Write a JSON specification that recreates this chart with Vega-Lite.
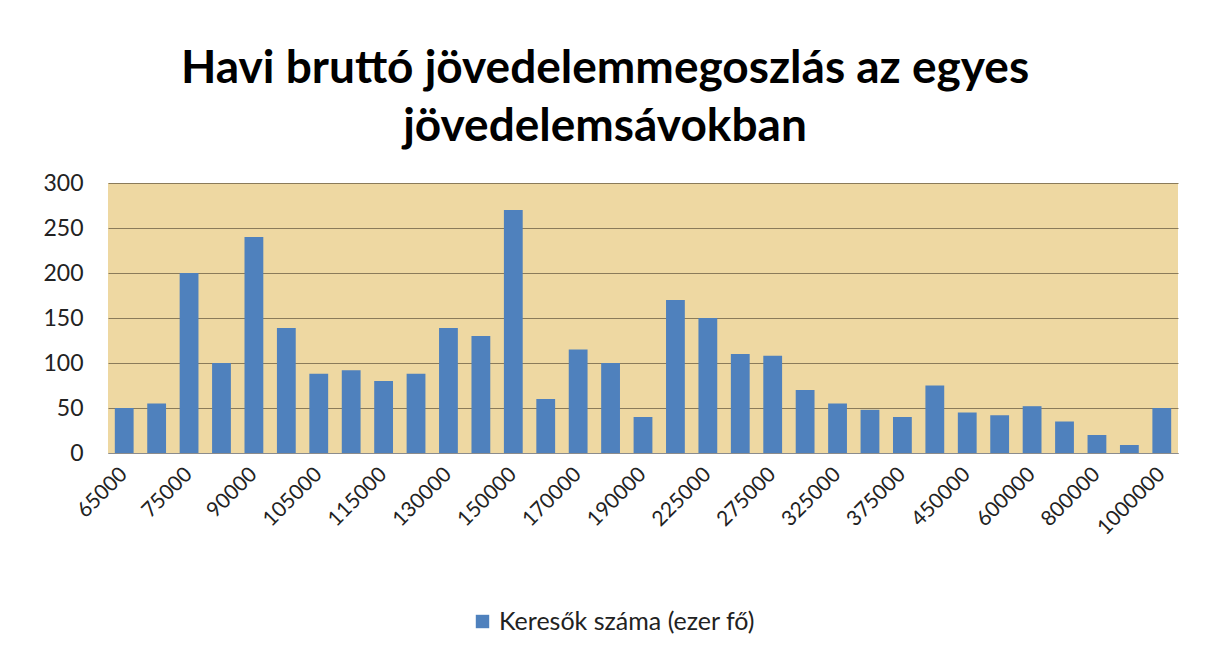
{
  "$schema": "https://vega.github.io/schema/vega-lite/v6.json",
  "width": 1070,
  "height": 270,
  "autosize": {"type": "none"},
  "padding": {"left": 108, "top": 183, "right": 32, "bottom": 200},
  "background": "white",
  "title": {
    "text": ["Havi bruttó jövedelemmegoszlás az egyes", "jövedelemsávokban"],
    "font": "Lato",
    "fontSize": 46,
    "fontWeight": "bold",
    "color": "#000000",
    "anchor": "middle",
    "frame": "group",
    "dx": -38,
    "offset": 21,
    "lineHeight": 58
  },
  "config": {
    "view": {"fill": "#eed8a2", "stroke": null},
    "axis": {"labelFont": "Lato", "labelColor": "#222222"}
  },
  "data": {
    "values": [
      {"sav": "65000", "keresok": 50},
      {"sav": "70000", "keresok": 55},
      {"sav": "75000", "keresok": 200},
      {"sav": "80000", "keresok": 100},
      {"sav": "90000", "keresok": 240},
      {"sav": "100000", "keresok": 139},
      {"sav": "105000", "keresok": 88},
      {"sav": "110000", "keresok": 92},
      {"sav": "115000", "keresok": 80},
      {"sav": "120000", "keresok": 88},
      {"sav": "130000", "keresok": 139},
      {"sav": "140000", "keresok": 130},
      {"sav": "150000", "keresok": 270},
      {"sav": "160000", "keresok": 60},
      {"sav": "170000", "keresok": 115},
      {"sav": "180000", "keresok": 100},
      {"sav": "190000", "keresok": 40},
      {"sav": "200000", "keresok": 170},
      {"sav": "225000", "keresok": 150},
      {"sav": "250000", "keresok": 110},
      {"sav": "275000", "keresok": 108},
      {"sav": "300000", "keresok": 70},
      {"sav": "325000", "keresok": 55},
      {"sav": "350000", "keresok": 48},
      {"sav": "375000", "keresok": 40},
      {"sav": "400000", "keresok": 75},
      {"sav": "450000", "keresok": 45},
      {"sav": "500000", "keresok": 42},
      {"sav": "600000", "keresok": 52},
      {"sav": "700000", "keresok": 35},
      {"sav": "800000", "keresok": 20},
      {"sav": "900000", "keresok": 9},
      {"sav": "1000000", "keresok": 50}
    ]
  },
  "mark": {"type": "bar"},
  "encoding": {
    "x": {
      "field": "sav",
      "type": "nominal",
      "sort": null,
      "scale": {"paddingInner": 0.42, "paddingOuter": 0.21},
      "axis": {
        "title": null,
        "values": ["65000", "75000", "90000", "105000", "115000", "130000", "150000", "170000", "190000", "225000", "275000", "325000", "375000", "450000", "600000", "800000", "1000000"],
        "labelAngle": -45,
        "labelAlign": "right",
        "labelBaseline": "middle",
        "labelFontSize": 21,
        "labelPadding": 18,
        "labelOverlap": false,
        "ticks": false,
        "domainColor": "#8c8c8c",
        "grid": false
      }
    },
    "y": {
      "field": "keresok",
      "type": "quantitative",
      "scale": {"domain": [0, 300], "nice": false},
      "axis": {
        "title": null,
        "values": [0, 50, 100, 150, 200, 250, 300],
        "labelFontSize": 23,
        "labelPadding": 25,
        "ticks": false,
        "domain": false,
        "grid": true,
        "gridColor": "#8a7b5a",
        "gridWidth": 1
      }
    },
    "color": {
      "datum": "Keresők száma (ezer fő)",
      "type": "nominal",
      "scale": {"range": ["#4f81bd"]},
      "legend": {
        "title": null,
        "orient": "none",
        "legendX": 362,
        "legendY": 426,
        "symbolType": "square",
        "symbolSize": 180,
        "symbolStrokeWidth": 0,
        "labelFont": "Lato",
        "labelFontSize": 25,
        "labelLimit": 0,
        "labelColor": "#222222"
      }
    }
  }
}
